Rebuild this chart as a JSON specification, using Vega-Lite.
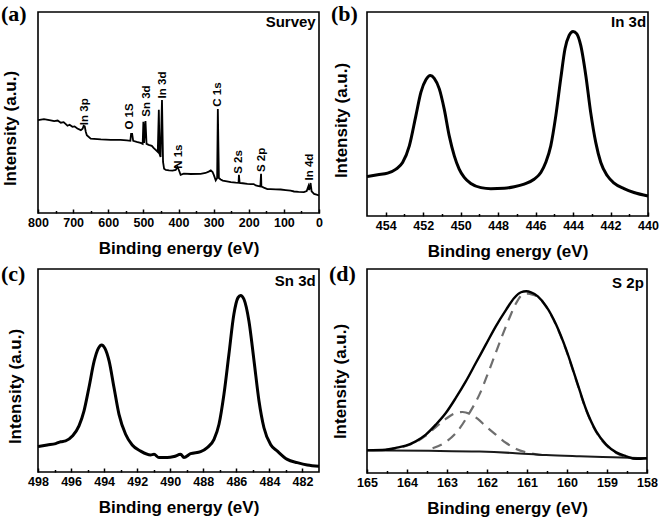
{
  "$schema": "https://vega.github.io/schema/vega-lite/v6.json",
  "background": "white",
  "padding": {"left": 0, "top": 2, "right": 0, "bottom": 0},
  "bounds": "flush",
  "columns": 2,
  "spacing": {"column": 48, "row": 53},
  "config": {
    "view": {"stroke": "#000", "strokeWidth": 1.6},
    "font": "Liberation Sans",
    "axis": {
      "domain": false, "grid": false,
      "labelFont": "Liberation Sans Narrow, Liberation Sans, Arial", "labelFontWeight": "bold", "labelFontSize": 12.5, "labelColor": "#000",
      "tickColor": "#000", "tickWidth": 1.5,
      "titleFont": "Liberation Sans", "titleFontWeight": "bold", "titleFontSize": 17, "titleColor": "#000"
    },
    "axisX": {"orient": "bottom", "labelFlush": false, "labelOverlap": false, "tickSize": -4, "labelPadding": 7, "titlePadding": 12},
    "axisY": {"labels": false, "ticks": false}
  },
  "datasets": {
    "survey": [
      {"e":800,"i":46.2},{"e":783,"i":46.7},{"e":764,"i":46.1},{"e":754,"i":45.7},{"e":744,"i":46.0},{"e":735,"i":44.9},{"e":727,"i":45.2},{"e":716,"i":43.4},{"e":710,"i":43.9},{"e":702,"i":42.9},{"e":696,"i":43.1},{"e":688,"i":42.0},{"e":678,"i":41.2},{"e":673,"i":41.9},{"e":670,"i":43.4},{"e":667,"i":43.1},{"e":664,"i":40.4},{"e":661,"i":38.7},{"e":650,"i":37.0},{"e":621,"i":36.6},{"e":593,"i":36.4},{"e":565,"i":36.4},{"e":547,"i":36.1},{"e":537,"i":35.9},{"e":535,"i":39.4},{"e":532,"i":39.4},{"e":529,"i":35.9},{"e":519,"i":35.4},{"e":508,"i":34.9},{"e":502,"i":34.4},{"e":500,"i":45.4},{"e":498,"i":34.9},{"e":494,"i":45.7},{"e":491,"i":34.4},{"e":485,"i":33.9},{"e":476,"i":33.4},{"e":471,"i":32.4},{"e":465,"i":31.4},{"e":459,"i":30.4},{"e":456,"i":51.4},{"e":454,"i":29.4},{"e":451,"i":27.9},{"e":447,"i":56.2},{"e":444,"i":25.4},{"e":441,"i":22.0},{"e":436,"i":21.4},{"e":427,"i":21.2},{"e":417,"i":21.1},{"e":408,"i":21.4},{"e":403,"i":22.9},{"e":399,"i":21.4},{"e":394,"i":19.0},{"e":385,"i":19.6},{"e":365,"i":19.4},{"e":337,"i":19.5},{"e":323,"i":19.9},{"e":314,"i":20.6},{"e":308,"i":21.2},{"e":303,"i":20.4},{"e":299,"i":18.7},{"e":294,"i":16.2},{"e":290,"i":17.4},{"e":288,"i":51.7},{"e":285,"i":17.4},{"e":280,"i":16.7},{"e":274,"i":16.1},{"e":266,"i":15.9},{"e":251,"i":15.4},{"e":237,"i":15.1},{"e":229,"i":15.0},{"e":228,"i":19.0},{"e":226,"i":15.0},{"e":217,"i":14.8},{"e":204,"i":14.5},{"e":194,"i":14.4},{"e":186,"i":14.4},{"e":180,"i":13.7},{"e":172,"i":13.4},{"e":167,"i":13.2},{"e":165,"i":19.5},{"e":164,"i":13.2},{"e":157,"i":12.6},{"e":147,"i":11.9},{"e":138,"i":11.9},{"e":123,"i":11.8},{"e":109,"i":11.7},{"e":95,"i":11.4},{"e":81,"i":11.1},{"e":71,"i":10.7},{"e":58,"i":10.5},{"e":43,"i":10.4},{"e":35,"i":10.9},{"e":30,"i":13.4},{"e":28,"i":11.4},{"e":24,"i":14.9},{"e":21,"i":10.8},{"e":14,"i":9.5},{"e":7,"i":9.1},{"e":0,"i":8.7}
    ],
    "surveyLabels": [
      {"e":667,"i":43.7,"t":"In 3p"},{"e":538,"i":41.5,"t":"O 1S"},{"e":488.5,"i":47.9,"t":"Sn 3d"},{"e":445,"i":57.0,"t":"In 3d"},{"e":398.6,"i":22.0,"t":"N 1s"},{"e":286.5,"i":52.9,"t":"C 1s"},{"e":228.6,"i":19.5,"t":"S 2s"},{"e":161,"i":20.4,"t":"S 2p"},{"e":25.6,"i":16.2,"t":"In 4d"}
    ],
    "in3d": [
      {"e":455.0,"i":19.3},{"e":454.43,"i":20.2},{"e":453.9,"i":21.0},{"e":453.45,"i":23.0},{"e":453.1,"i":26.2},{"e":452.74,"i":34.4},{"e":452.39,"i":49.2},{"e":452.12,"i":60.7},{"e":451.85,"i":66.9},{"e":451.62,"i":68.9},{"e":451.41,"i":67.5},{"e":451.14,"i":62.3},{"e":450.88,"i":52.5},{"e":450.61,"i":39.3},{"e":450.34,"i":29.5},{"e":450.08,"i":23.0},{"e":449.81,"i":18.9},{"e":449.46,"i":15.9},{"e":448.92,"i":13.9},{"e":448.39,"i":13.4},{"e":447.68,"i":13.6},{"e":447.14,"i":14.3},{"e":446.61,"i":15.6},{"e":446.08,"i":18.0},{"e":445.72,"i":21.3},{"e":445.46,"i":26.2},{"e":445.19,"i":34.4},{"e":444.92,"i":49.2},{"e":444.66,"i":67.2},{"e":444.43,"i":82.0},{"e":444.21,"i":88.5},{"e":444.0,"i":90.5},{"e":443.8,"i":89.3},{"e":443.59,"i":83.6},{"e":443.32,"i":68.9},{"e":443.06,"i":50.8},{"e":442.79,"i":36.1},{"e":442.52,"i":26.2},{"e":442.17,"i":19.7},{"e":441.81,"i":16.1},{"e":441.28,"i":13.4},{"e":440.75,"i":11.5},{"e":440.0,"i":9.8}
    ],
    "sn3d": [
      {"e":498.0,"i":12.5},{"e":497.44,"i":13.3},{"e":496.93,"i":14.0},{"e":496.63,"i":14.9},{"e":496.33,"i":15.3},{"e":495.92,"i":17.7},{"e":495.52,"i":22.7},{"e":495.22,"i":30.0},{"e":494.92,"i":41.5},{"e":494.6,"i":54.7},{"e":494.35,"i":60.9},{"e":494.15,"i":62.6},{"e":493.95,"i":60.9},{"e":493.7,"i":54.7},{"e":493.4,"i":41.5},{"e":493.1,"i":28.4},{"e":492.7,"i":18.6},{"e":492.3,"i":13.3},{"e":491.79,"i":10.3},{"e":491.19,"i":8.4},{"e":490.98,"i":8.7},{"e":490.68,"i":7.1},{"e":490.18,"i":7.1},{"e":489.77,"i":7.6},{"e":489.37,"i":8.7},{"e":489.17,"i":7.1},{"e":488.77,"i":9.0},{"e":488.16,"i":10.0},{"e":487.76,"i":12.0},{"e":487.35,"i":16.1},{"e":487.05,"i":23.5},{"e":486.75,"i":38.3},{"e":486.45,"i":58.0},{"e":486.15,"i":77.7},{"e":485.9,"i":85.9},{"e":485.74,"i":87.0},{"e":485.54,"i":85.1},{"e":485.24,"i":74.4},{"e":484.93,"i":54.7},{"e":484.63,"i":35.0},{"e":484.33,"i":21.8},{"e":483.93,"i":13.6},{"e":483.52,"i":10.3},{"e":482.92,"i":6.2},{"e":482.31,"i":4.6},{"e":481.71,"i":3.4},{"e":481.0,"i":2.8}
    ],
    "s2pEnv": [
      {"e":165.0,"i":11.1},{"e":164.53,"i":11.4},{"e":164.28,"i":12.3},{"e":164.03,"i":13.4},{"e":163.78,"i":15.5},{"e":163.53,"i":18.8},{"e":163.28,"i":23.7},{"e":163.03,"i":29.4},{"e":162.78,"i":36.8},{"e":162.53,"i":44.9},{"e":162.28,"i":53.9},{"e":162.03,"i":62.9},{"e":161.78,"i":71.9},{"e":161.52,"i":80.1},{"e":161.32,"i":85.8},{"e":161.15,"i":88.6},{"e":161.02,"i":89.1},{"e":160.9,"i":88.6},{"e":160.73,"i":86.6},{"e":160.52,"i":81.7},{"e":160.27,"i":72.7},{"e":160.02,"i":60.5},{"e":159.77,"i":45.8},{"e":159.52,"i":31.0},{"e":159.27,"i":20.4},{"e":159.02,"i":13.9},{"e":158.77,"i":10.1},{"e":158.52,"i":8.2},{"e":158.27,"i":6.9},{"e":158.0,"i":7.2}
    ],
    "s2pBase": [
      {"e":165.0,"i":11.1},{"e":163.45,"i":10.9},{"e":162.19,"i":10.5},{"e":161.36,"i":9.8},{"e":160.52,"i":8.8},{"e":159.69,"i":8.2},{"e":158.85,"i":7.7},{"e":158.0,"i":7.2}
    ],
    "s2pA": [
      {"e":163.36,"i":12.1},{"e":163.03,"i":15.2},{"e":162.74,"i":20.4},{"e":162.44,"i":29.4},{"e":162.19,"i":38.4},{"e":161.94,"i":50.7},{"e":161.69,"i":63.7},{"e":161.44,"i":76.0},{"e":161.27,"i":83.3},{"e":161.11,"i":87.4},{"e":160.98,"i":87.9},{"e":160.86,"i":87.4},{"e":160.69,"i":85.8},{"e":160.52,"i":81.4},{"e":160.27,"i":72.4},{"e":160.02,"i":60.1},{"e":159.77,"i":45.4},{"e":159.52,"i":30.7},{"e":159.27,"i":20.1},{"e":159.02,"i":13.6},{"e":158.77,"i":9.8},{"e":158.52,"i":7.8},{"e":158.27,"i":7.0},{"e":158.0,"i":6.9}
    ],
    "s2pB": [
      {"e":164.53,"i":11.4},{"e":164.28,"i":12.1},{"e":164.03,"i":13.2},{"e":163.78,"i":15.2},{"e":163.53,"i":18.3},{"e":163.28,"i":22.5},{"e":163.03,"i":26.5},{"e":162.82,"i":29.1},{"e":162.61,"i":29.9},{"e":162.44,"i":29.1},{"e":162.23,"i":26.5},{"e":162.03,"i":22.9},{"e":161.78,"i":18.8},{"e":161.52,"i":14.7},{"e":161.27,"i":11.8},{"e":160.94,"i":9.8},{"e":160.61,"i":8.8}
    ]
  },
  "concat": [
    {
      "width": 281, "height": 201,
      "title": {"text": "(a)", "anchor": "start", "frame": "group", "offset": 0, "dx": -37, "dy": 31, "baseline": "alphabetic", "font": "Liberation Serif", "fontSize": 22, "fontWeight": "bold", "color": "#000"},
      "encoding": {
        "x": {"field": "e", "type": "quantitative", "scale": {"domain": [0, 800], "reverse": true, "nice": false, "zero": false}, "axis": null},
        "y": {"field": "i", "type": "quantitative", "scale": {"domain": [0, 100], "nice": false, "zero": false}, "axis": {"title": "Intensity (a.u.)", "titleY": 116, "titlePadding": 19}}
      },
      "layer": [
        {"data": {"name": "survey"}, "mark": {"type": "line", "opacity": 0},
         "encoding": {"x": {"field": "e", "type": "quantitative", "scale": {"domain": [0, 800], "reverse": true, "nice": false, "zero": false},
           "axis": {"orient": "bottom", "values": [50,150,250,350,450,550,650,750], "labels": false, "tickSize": -2.5, "title": null}}}},
        {"data": {"name": "survey"}, "mark": {"type": "line", "color": "#000", "strokeWidth": 1.8},
         "encoding": {"x": {"field": "e", "type": "quantitative", "scale": {"domain": [0, 800], "reverse": true, "nice": false, "zero": false},
           "axis": {"orient": "bottom", "values": [0,100,200,300,400,500,600,700,800], "title": "Binding energy (eV)"}}}},
        {"data": {"name": "surveyLabels"}, "mark": {"type": "text", "angle": 270, "align": "left", "baseline": "middle", "fontSize": 11.5, "fontWeight": "bold", "color": "#000"},
         "encoding": {"text": {"field": "t"}}},
        {"data": {"values": [{"e": 9.4, "i": 92.5, "t": "Survey"}]}, "mark": {"type": "text", "align": "right", "baseline": "alphabetic", "fontSize": 15, "fontWeight": "bold", "color": "#000"},
         "encoding": {"text": {"field": "t"}}}
      ],
      "resolve": {"axis": {"x": "independent"}}
    },
    {
      "width": 281, "height": 204,
      "title": {"text": "(b)", "anchor": "start", "frame": "group", "offset": 0, "dx": -36, "dy": 31, "baseline": "alphabetic", "font": "Liberation Serif", "fontSize": 22, "fontWeight": "bold", "color": "#000"},
      "encoding": {
        "x": {"field": "e", "type": "quantitative", "scale": {"domain": [440, 455], "reverse": true, "nice": false, "zero": false}, "axis": null},
        "y": {"field": "i", "type": "quantitative", "scale": {"domain": [0, 100], "nice": false, "zero": false}, "axis": {"title": "Intensity (a.u.)", "titleY": 108, "titlePadding": 17}}
      },
      "layer": [
        {"data": {"name": "in3d"}, "mark": {"type": "line", "opacity": 0},
         "encoding": {"x": {"field": "e", "type": "quantitative", "scale": {"domain": [440, 455], "reverse": true, "nice": false, "zero": false},
           "axis": {"orient": "bottom", "values": [441,443,445,447,449,451,453], "labels": false, "tickSize": -2.5, "title": null}}}},
        {"data": {"name": "in3d"}, "mark": {"type": "line", "color": "#000", "strokeWidth": 3, "interpolate": "monotone"},
         "encoding": {"x": {"field": "e", "type": "quantitative", "scale": {"domain": [440, 455], "reverse": true, "nice": false, "zero": false},
           "axis": {"orient": "bottom", "values": [440,442,444,446,448,450,452,454], "title": "Binding energy (eV)"}}}},
        {"data": {"values": [{"e": 440.1, "i": 92.6, "t": "In 3d"}]}, "mark": {"type": "text", "align": "right", "baseline": "alphabetic", "fontSize": 15, "fontWeight": "bold", "color": "#000"},
         "encoding": {"text": {"field": "t"}}}
      ],
      "resolve": {"axis": {"x": "independent"}}
    },
    {
      "width": 281, "height": 203,
      "title": {"text": "(c)", "anchor": "start", "frame": "group", "offset": 0, "dx": -37, "dy": 34, "baseline": "alphabetic", "font": "Liberation Serif", "fontSize": 22, "fontWeight": "bold", "color": "#000"},
      "encoding": {
        "x": {"field": "e", "type": "quantitative", "scale": {"domain": [481, 498], "reverse": true, "nice": false, "zero": false}, "axis": null},
        "y": {"field": "i", "type": "quantitative", "scale": {"domain": [0, 100], "nice": false, "zero": false}, "axis": {"title": "Intensity (a.u.)", "titleY": 117, "titlePadding": 14}}
      },
      "layer": [
        {"data": {"name": "sn3d"}, "mark": {"type": "line", "opacity": 0},
         "encoding": {"x": {"field": "e", "type": "quantitative", "scale": {"domain": [481, 498], "reverse": true, "nice": false, "zero": false},
           "axis": {"orient": "bottom", "values": [483,485,487,489,491,493,495,497], "labels": false, "tickSize": -2.5, "title": null}}}},
        {"data": {"name": "sn3d"}, "mark": {"type": "line", "color": "#000", "strokeWidth": 3, "interpolate": "monotone"},
         "encoding": {"x": {"field": "e", "type": "quantitative", "scale": {"domain": [481, 498], "reverse": true, "nice": false, "zero": false},
           "axis": {"orient": "bottom", "values": [482,484,486,488,490,492,494,496,498], "title": "Binding energy (eV)"}}}},
        {"data": {"values": [{"e": 481.2, "i": 91.6, "t": "Sn 3d"}]}, "mark": {"type": "text", "align": "right", "baseline": "alphabetic", "fontSize": 15, "fontWeight": "bold", "color": "#000"},
         "encoding": {"text": {"field": "t"}}}
      ],
      "resolve": {"axis": {"x": "independent"}}
    },
    {
      "width": 280, "height": 204,
      "title": {"text": "(d)", "anchor": "start", "frame": "group", "offset": 0, "dx": -38, "dy": 34, "baseline": "alphabetic", "font": "Liberation Serif", "fontSize": 22, "fontWeight": "bold", "color": "#000"},
      "encoding": {
        "x": {"field": "e", "type": "quantitative", "scale": {"domain": [158, 165], "reverse": true, "nice": false, "zero": false}, "axis": null},
        "y": {"field": "i", "type": "quantitative", "scale": {"domain": [0, 100], "nice": false, "zero": false}, "axis": {"title": "Intensity (a.u.)", "titleY": 112, "titlePadding": 18}}
      },
      "layer": [
        {"data": {"name": "s2pEnv"}, "mark": {"type": "line", "opacity": 0},
         "encoding": {"x": {"field": "e", "type": "quantitative", "scale": {"domain": [158, 165], "reverse": true, "nice": false, "zero": false},
           "axis": {"orient": "bottom", "values": [158.5,159.5,160.5,161.5,162.5,163.5,164.5], "labels": false, "tickSize": -2.5, "title": null}}}},
        {"data": {"name": "s2pA"}, "mark": {"type": "line", "color": "#6e6e6e", "strokeWidth": 2.2, "strokeDash": [10, 7], "interpolate": "monotone"}},
        {"data": {"name": "s2pB"}, "mark": {"type": "line", "color": "#6e6e6e", "strokeWidth": 2.2, "strokeDash": [10, 7], "interpolate": "monotone"}},
        {"data": {"name": "s2pBase"}, "mark": {"type": "line", "color": "#1a1a1a", "strokeWidth": 2, "interpolate": "monotone"}},
        {"data": {"name": "s2pEnv"}, "mark": {"type": "line", "color": "#000", "strokeWidth": 2.4, "interpolate": "monotone"},
         "encoding": {"x": {"field": "e", "type": "quantitative", "scale": {"domain": [158, 165], "reverse": true, "nice": false, "zero": false},
           "axis": {"orient": "bottom", "values": [158,159,160,161,162,163,164,165], "title": "Binding energy (eV)"}}}},
        {"data": {"values": [{"e": 158.08, "i": 90.7, "t": "S 2p"}]}, "mark": {"type": "text", "align": "right", "baseline": "alphabetic", "fontSize": 15, "fontWeight": "bold", "color": "#000"},
         "encoding": {"text": {"field": "t"}}}
      ],
      "resolve": {"axis": {"x": "independent"}}
    }
  ]
}
